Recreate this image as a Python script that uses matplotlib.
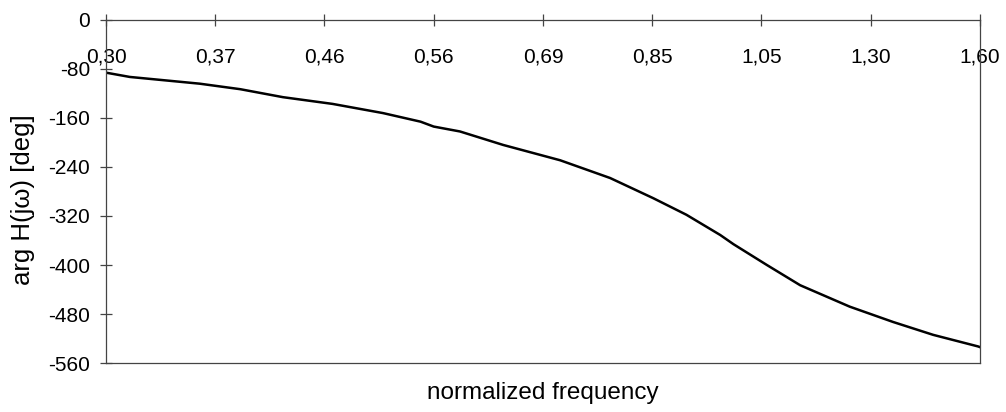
import matplotlib
matplotlib.use("Agg")
import matplotlib.pyplot as plt
import numpy as np

plt.rcParams['font.family'] = ['Liberation Sans', 'DejaVu Sans']
plt.rcParams['axes.unicode_minus'] = False

# values
freq = [0.300, 0.314, 0.359, 0.388, 0.421, 0.463, 0.510, 0.548, 0.562, 0.591,
        0.642, 0.716, 0.788, 0.856, 0.912, 0.973, 0.998, 1.064, 1.134,
        1.247, 1.355, 1.463, 1.595, 1.600]
phase = [-86, -93, -104, -113, -126, -137, -152, -166, -174, -182,
         -204, -229, -258, -291, -318, -351, -366, -400, -433,
         -468, -493, -514, -533, -534]

xticks = [0.30, 0.37, 0.46, 0.56, 0.69, 0.85, 1.05, 1.30, 1.60]
yticks = [0, -80, -160, -240, -320, -400, -480, -560]

fig = plt.figure(figsize=(10.06, 4.12), dpi=100)
ax = fig.add_axes([0.1054, 0.1189, 0.974 - 0.1054, 0.9515 - 0.1189])

ax.plot(freq, phase, color='black', linewidth=1.8)

ax.set_xscale('log')
# ticks evenly spaced in log space, labels rounded like the original
tick_pos = np.geomspace(0.30, 1.60, 9)
ax.set_xticks(tick_pos)
ax.set_xticklabels([f"{v:.2f}".replace('.', ',') for v in xticks])
ax.minorticks_off()
ax.set_xlim(0.30, 1.60)
ax.set_ylim(-560, 0)
ax.set_yticks(yticks)

for s in ax.spines.values():
    s.set_color('#444444')
    s.set_linewidth(0.9)

ax.tick_params(axis='x', direction='inout', length=9, width=0.9, color='#444444',
               top=True, bottom=False, labeltop=True, labelbottom=False,
               pad=-38, labelsize=15)
ax.tick_params(axis='y', direction='inout', length=9, width=0.9, color='#444444',
               labelsize=15, pad=7)

ax.set_xlabel("normalized frequency", fontsize=17.5)
ax.xaxis.set_label_coords(0.5, -0.055)
ax.set_ylabel("arg H(j\u03c9) [deg]", fontsize=18.5)
ax.yaxis.set_label_coords(-0.081, 0.475)

fig.savefig("out.png", dpi=100)
